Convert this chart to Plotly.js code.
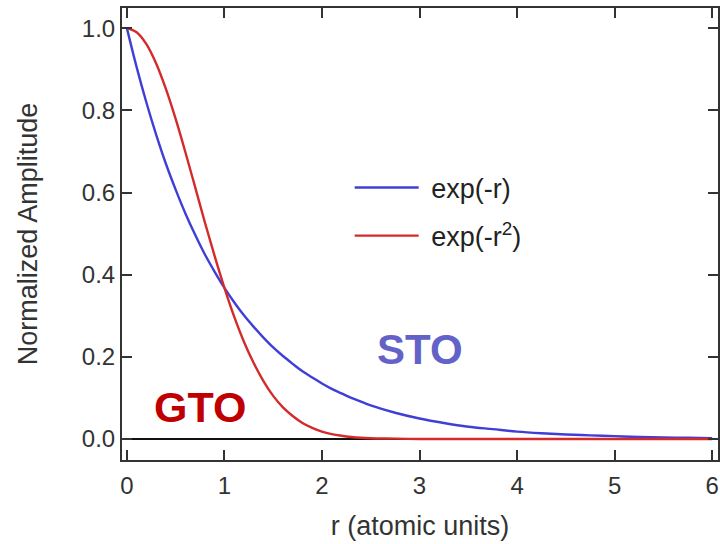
<!DOCTYPE html>
<html>
<head>
<meta charset="utf-8">
<script src="https://cdn.plot.ly/plotly-3.0.1.min.js"></script>
<style>html,body{margin:0;padding:0;background:#fff;}#chart{width:720px;height:544px;}</style>
</head>
<body>
<div id="chart"></div>
<script>
// r values (atomic units)
var rValues = [0,0.1,0.2,0.3,0.4,0.5,0.6,0.7,0.8,0.9,1.0,1.1,1.2,1.3,1.4,1.5,1.6,1.7,1.8,1.9,2.0,2.1,2.2,2.3,2.4,2.5,2.75,3.0,3.25,3.5,3.75,4.0,4.25,4.5,4.75,5.0,5.25,5.5,5.75,6.0];
// STO curve exp(-r)
var stoValues = [1.000,0.905,0.819,0.741,0.670,0.607,0.549,0.497,0.449,0.407,0.368,0.333,0.301,0.273,0.247,0.223,0.202,0.183,0.165,0.150,0.135,0.122,0.111,0.100,0.091,0.082,0.064,0.050,0.039,0.030,0.024,0.018,0.014,0.011,0.009,0.007,0.005,0.004,0.003,0.002];
// GTO curve exp(-r^2)
var gtoValues = [1.000,0.990,0.961,0.914,0.852,0.779,0.698,0.613,0.527,0.445,0.368,0.298,0.237,0.185,0.141,0.105,0.077,0.056,0.039,0.027,0.018,0.012,0.008,0.005,0.003,0.002,0.001,0,0,0,0,0,0,0,0,0,0,0,0,0];
var seriesNames = ['exp(-r)', 'exp(-r<sup>2</sup>)'];
var xTicks = [0,1,2,3,4,5,6];
var yTicks = [0.0,0.2,0.4,0.6,0.8,1.0];
var yTickText = ['0.0','0.2','0.4','0.6','0.8','1.0'];

var FONT = 'Liberation Sans, Arial, sans-serif';
var traces = [
  {x: rValues, y: stoValues, name: '&nbsp;' + seriesNames[0], mode: 'lines', line: {color: '#3f3fd8', width: 2.4, shape: 'spline'}, legendgroup: 'a'},
  {x: rValues, y: gtoValues, name: '&nbsp;' + seriesNames[1], mode: 'lines', line: {color: '#d42a2a', width: 2.4, shape: 'spline'}, legendgroup: 'b'}
];

var axisCommon = {
  showline: true, linecolor: '#333', linewidth: 2,
  ticks: 'inside', ticklen: 10, tickwidth: 2, tickcolor: '#333',
  mirror: 'allticks', showgrid: false,
  tickfont: {family: FONT, size: 24, color: '#333'}
};

var layout = {
  width: 720, height: 544,
  margin: {l: 122, r: 2, t: 8, b: 84},
  paper_bgcolor: '#fff', plot_bgcolor: '#fff',
  font: {family: FONT, color: '#333'},
  xaxis: Object.assign({}, axisCommon, {
    range: [-0.05, 6.06], tickvals: xTicks, zeroline: false,
    ticklabelstandoff: 3, ticklabeloverflow: 'allow',
    title: {text: 'r (atomic units)', font: {size: 27, color: '#333'}, standoff: 18}
  }),
  yaxis: Object.assign({}, axisCommon, {
    range: [-0.051, 1.049], tickvals: yTicks, ticktext: yTickText,
    zeroline: true, zerolinecolor: '#111', zerolinewidth: 2,
    ticklabelstandoff: 0,
    title: {text: 'Normalized Amplitude', font: {size: 27, color: '#333'}, standoff: 36}
  }),
  showlegend: true,
  legend: {
    x: 0.382, y: 0.656, xanchor: 'left', yanchor: 'top',
    bgcolor: 'rgba(0,0,0,0)', borderwidth: 0,
    font: {family: FONT, size: 27, color: '#222'},
    itemwidth: 64, tracegroupgap: 10, traceorder: 'grouped'
  },
  annotations: [
    {x: 420, y: 349, text: '<b>STO</b>', font: {family: FONT, size: 42, color: '#6262c9'}},
    {x: 200, y: 407, text: '<b>GTO</b>', font: {family: FONT, size: 43, color: '#c00000'}}
  ]
};
// convert pixel annotation positions to paper coords
layout.annotations.forEach(function(a){
  a.xref = 'paper'; a.yref = 'paper'; a.showarrow = false;
  a.xanchor = 'center'; a.yanchor = 'middle';
  a.x = (a.x - 122) / (720 - 122 - 2);
  a.y = 1 - (a.y - 8) / (544 - 8 - 84);
});

Plotly.newPlot('chart', traces, layout, {staticPlot: true, displayModeBar: false});
</script>
</body>
</html>
